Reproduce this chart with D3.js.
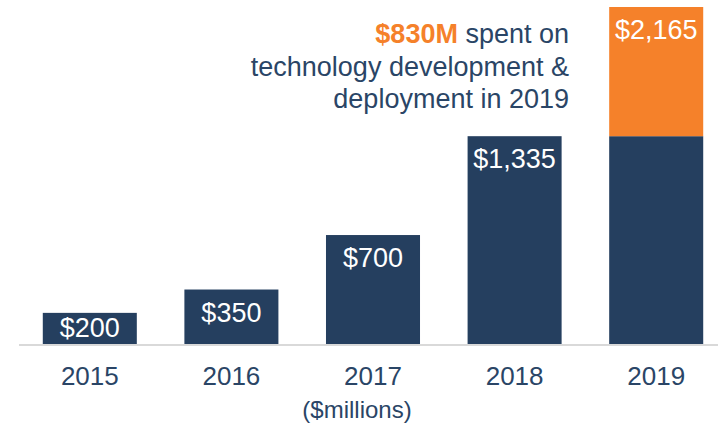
<!DOCTYPE html>
<html>
<head>
<meta charset="utf-8">
<script src="https://cdn.jsdelivr.net/npm/d3@7"></script>
<style>
  body { margin: 0; background: #fff; }
  svg { display: block; font-family: "Liberation Sans", Arial, sans-serif; }
</style>
</head>
<body>
<div id="chart"></div>
<script>
// data ($ millions)
var years = ["2015", "2016", "2017", "2018", "2019"];
var baseSpend = [200, 350, 700, 1335, 1335];
var techSpend = [0, 0, 0, 0, 830];
var totalLabels = ["$200", "$350", "$700", "$1,335", "$2,165"];

var navy = "#253f5f", orange = "#f5812a", textNavy = "#2a4566";

function drawChart(){
  var W = 718, H = 424;
  var svg = d3.select("#chart").append("svg")
    .attr("width", W).attr("height", H);

  var x = d3.scaleBand().domain(years).range([19, 727])
    .paddingInner(0.336).paddingOuter(0.168);
  var y = d3.scaleLinear().domain([0, 2165]).range([344, 7]);

  var rows = years.map(function(yr, i){
    return {yr: yr, base: baseSpend[i], tech: techSpend[i], label: totalLabels[i]};
  });

  // dark part
  svg.selectAll(".base").data(rows).enter().append("rect")
    .attr("class", "base")
    .attr("x", function(d){ return x(d.yr); })
    .attr("width", x.bandwidth())
    .attr("y", function(d){ return y(d.base); })
    .attr("height", function(d){ return y(0) - y(d.base); })
    .attr("fill", navy);

  // tech development part (2019 only)
  svg.selectAll(".tech").data(rows.filter(function(d){ return d.tech > 0; })).enter().append("rect")
    .attr("class", "tech")
    .attr("x", function(d){ return x(d.yr); })
    .attr("width", x.bandwidth())
    .attr("y", function(d){ return y(d.base + d.tech); })
    .attr("height", function(d){ return y(d.base) - y(d.base + d.tech); })
    .attr("fill", orange);

  // baseline
  svg.append("line")
    .attr("x1", 19).attr("x2", W)
    .attr("y1", y(0) + 1).attr("y2", y(0) + 1)
    .attr("stroke", "#d9d9d9").attr("stroke-width", 2);

  // value labels near top of each bar
  svg.selectAll(".val").data(rows).enter().append("text")
    .attr("class", "val")
    .attr("x", function(d){ return x(d.yr) + x.bandwidth() / 2; })
    .attr("y", function(d){ return Math.min(y(d.base + d.tech) + 32, y(0) - 7); })
    .attr("text-anchor", "middle")
    .attr("fill", "#fff")
    .style("font-size", "27px")
    .text(function(d){ return d.label; });

  // x axis labels
  var xAxis = d3.axisBottom(x).tickSize(0).tickPadding(0);
  var gx = svg.append("g").attr("transform", "translate(0," + 385 + ")").call(xAxis);
  gx.select(".domain").remove();
  gx.selectAll("text")
    .attr("dy", 0).attr("y", 0)
    .attr("fill", textNavy)
    .style("font-size", "26px")
    .style("font-family", "'Liberation Sans', Arial, sans-serif");

  svg.append("text")
    .attr("x", 357).attr("y", 418)
    .attr("text-anchor", "middle")
    .attr("fill", textNavy)
    .style("font-size", "24px")
    .text("($millions)");

  // callout
  var note = svg.append("text")
    .attr("text-anchor", "end")
    .attr("fill", textNavy)
    .style("font-size", "27px");
  var l1 = note.append("tspan").attr("x", 569).attr("y", 43);
  l1.append("tspan").attr("fill", orange).attr("font-weight", "bold").text("$830M");
  l1.append("tspan").text(" spent on");
  note.append("tspan").attr("x", 569).attr("y", 76).text("technology development &");
  note.append("tspan").attr("x", 569).attr("y", 108).text("deployment in 2019");
}
drawChart();
</script>
</body>
</html>
